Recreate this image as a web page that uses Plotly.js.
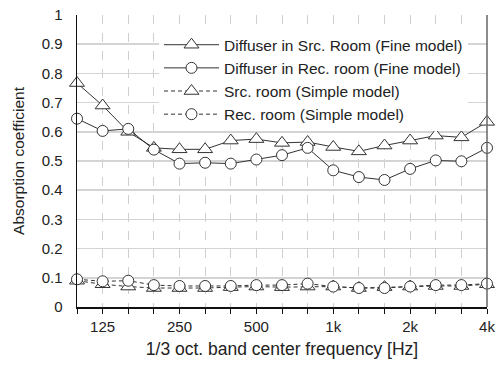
<!DOCTYPE html>
<html>
<head>
<meta charset="utf-8">
<script src="https://cdn.plot.ly/plotly-3.0.1.min.js"></script>
<style>html,body{margin:0;padding:0;background:#fff;}#chart{width:500px;height:365px;}</style>
</head>
<body>
<div id="chart"></div>
<script>
var bands = ["100","125","160","200","250","315","400","500","630","800","1k","1.25k","1.6k","2k","2.5k","3.15k","4k"];
var tickLabels = ["","125","","","250","","","500","","","1k","","","2k","","","4k"];
var srcFine = [0.767,0.69,0.60,0.545,0.54,0.54,0.57,0.575,0.562,0.565,0.548,0.533,0.553,0.57,0.587,0.581,0.634];
var recFine = [0.645,0.603,0.61,0.539,0.491,0.494,0.491,0.505,0.52,0.545,0.468,0.445,0.435,0.473,0.502,0.499,0.545];
var srcSimple = [0.09,0.078,0.07,0.065,0.065,0.065,0.068,0.07,0.068,0.07,0.07,0.065,0.068,0.07,0.072,0.072,0.078];
var recSimple = [0.095,0.088,0.09,0.075,0.072,0.072,0.072,0.075,0.075,0.08,0.07,0.065,0.065,0.07,0.075,0.075,0.08];
var names = ["Diffuser in Src. Room (Fine model)","Diffuser in Rec. room (Fine model)","Src. room (Simple model)","Rec. room (Simple model)"];

var idx = bands.map(function(_, i){ return i; });
function tr(y, name, sym, dash, sz){
  return {x: idx, y: y, name: name, type: 'scatter', mode: 'lines+markers', cliponaxis: false,
    line: {color: '#333', width: 1, dash: dash},
    marker: {symbol: sym, size: sz, color: '#fff', line: {color: '#333', width: 1}}};
}
var data = [
  tr(srcFine, names[0], 'triangle-up', 'solid', 13),
  tr(recFine, names[1], 'circle', 'solid', 11),
  tr(srcSimple, names[2], 'triangle-up', '4px,3px', 13),
  tr(recSimple, names[3], 'circle', '4px,3px', 11)
];
var fnt = "'Liberation Sans', Arial, sans-serif";
var layout = {
  width: 500, height: 365,
  margin: {l: 77, r: 13, t: 15, b: 57.5},
  paper_bgcolor: '#fff', plot_bgcolor: '#fff',
  font: {family: fnt, size: 14, color: '#222'},
  showlegend: true,
  legend: {x: 0.2, y: 0.955, xanchor: 'left', yanchor: 'top', bgcolor: 'rgba(255,255,255,1)',
    font: {size: 15.5, color: '#222'}, itemwidth: 55, tracegroupgap: 0},
  xaxis: {range: [0, 16], tickmode: 'array', tickvals: idx, ticktext: tickLabels,
    showgrid: true, gridcolor: '#cfcfcf', griddash: 'dash', gridwidth: 1,
    showline: true, linecolor: '#111', linewidth: 1.5, ticks: 'outside', ticklen: 5, tickcolor: '#111',
    zeroline: false, tickfont: {size: 15},
    title: {text: '1/3 oct. band center frequency [Hz]', font: {size: 17.5}, standoff: 9}},
  yaxis: {range: [0, 1], dtick: 0.1, tick0: 0, showgrid: true, gridcolor: '#d4d4d4', gridwidth: 1.5,
    showline: true, linecolor: '#111', linewidth: 1.5, ticks: '', zeroline: false,
    tickfont: {size: 15}, ticklabelstandoff: 10,
    title: {text: 'Absorption coefficient', font: {size: 15.5}, standoff: 13}},
  shapes: [{type: 'line', xref: 'paper', yref: 'paper', x0: 1, x1: 1, y0: 0, y1: 1,
    line: {color: '#666', width: 1.5}}]
};
Plotly.newPlot('chart', data, layout, {staticPlot: true, displayModeBar: false});
</script>
</body>
</html>
